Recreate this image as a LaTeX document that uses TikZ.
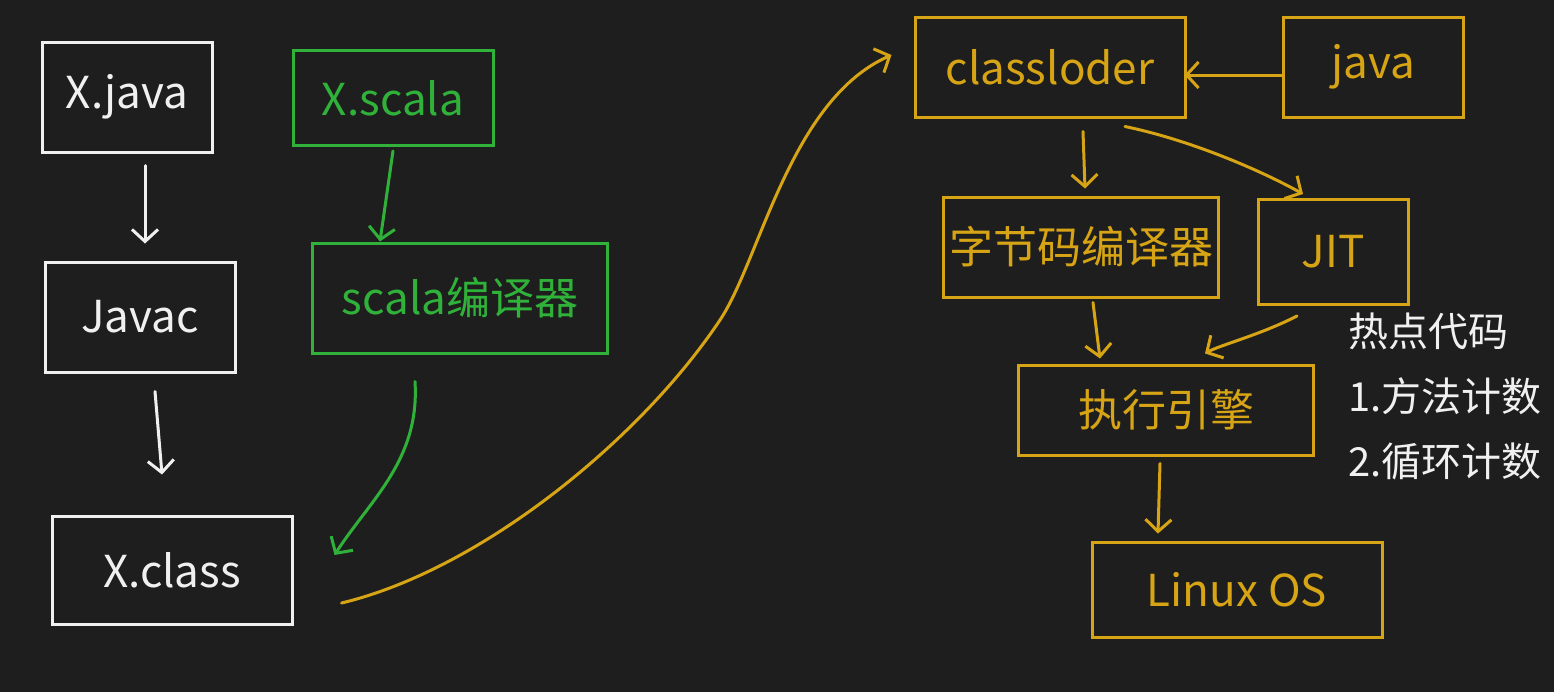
\documentclass[tikz,border=0pt]{standalone}
\usepackage{fontspec}
\setmainfont{Noto Sans CJK SC}
\usetikzlibrary{arrows.meta}
\definecolor{bg}{RGB}{30,30,30}
\definecolor{wline}{RGB}{240,240,240}
\definecolor{gline}{RGB}{48,178,58}
\definecolor{yline}{RGB}{214,164,20}
\begin{document}
\begin{tikzpicture}[x=0.5pt,y=-0.5pt,
 box/.style={draw, line width=1.5pt, rectangle, inner sep=0pt, font=\fontsize{22}{26}\selectfont},
 wbox/.style={box, draw=wline, text=wline},
 gbox/.style={box, draw=gline, text=gline},
 ybox/.style={box, draw=yline, text=yline},
 arr/.style={line width=1.5pt, line cap=round, -{Straight Barb[length=6pt,width=13pt,line width=1.5pt]}},
]
\fill[bg] (0,0) rectangle (1554,692);
\useasboundingbox (0,0) rectangle (1554,692);

% left column
\node[wbox, minimum width=85pt, minimum height=55pt] (xjava) at (127,97) {X.java};
\node[wbox, minimum width=95pt, minimum height=55pt] (javac) at (140,317) {Javac};
\node[wbox, minimum width=120pt, minimum height=54pt] (xclass) at (172,570) {X.class};
% green
\node[gbox, minimum width=100pt, minimum height=47.5pt] (xscala) at (393,98) {X.scala};
\node[gbox, minimum width=147.5pt, minimum height=55pt] (scc) at (460,298) {scala编译器};
% gold
\node[ybox, minimum width=135pt, minimum height=50pt] (cl) at (1050,67) {classloder};
\node[ybox, minimum width=90pt, minimum height=50pt] (java) at (1373,67) {java};
\node[ybox, minimum width=137.5pt, minimum height=50pt] (bc) at (1081,247) {字节码编译器};
\node[ybox, minimum width=75pt, minimum height=52.5pt] (jit) at (1333,252) {JIT};
\node[ybox, minimum width=147.5pt, minimum height=45pt] (exe) at (1166,410) {执行引擎};
\node[ybox, minimum width=145pt, minimum height=47.5pt] (os) at (1237,590) {Linux OS};
% note
\node[text=wline, anchor=north west, inner sep=0pt, align=left,
      font=\fontsize{20}{32.5}\selectfont] (hot) at (1348,312) {热点代码\\1.方法计数\\2.循环计数};

% white arrows
\draw[arr, wline] ([xshift=9pt,yshift=-6pt]xjava.south) -- ([xshift=2.5pt,yshift=8.5pt]javac.north);
\draw[arr, wline] ([xshift=7.5pt,yshift=-9pt]javac.south) -- ([xshift=-5pt,yshift=20pt]xclass.north);
% green arrows
\draw[arr, gline] ([yshift=-2pt]xscala.south) -- ([xshift=-40pt,yshift=0pt]scc.north);
\draw[arr, gline] ([xshift=-22.5pt,yshift=-13.5pt]scc.south)
   .. controls (420,460) and (370,500) .. ([xshift=20.5pt,yshift=7.5pt]xclass.east);
% gold arrows
\coordinate (mid) at (720,320);
\draw[arr, yline] ([xshift=24pt,yshift=-16.5pt]xclass.east)
   .. controls (480,570) and (640,440) .. (mid)
   .. controls (760,260) and (790,100) .. ([xshift=-11pt,yshift=6pt]cl.west);
\draw[arr, yline] ([yshift=-4pt]java.west) -- ([xshift=-1pt,yshift=-4pt]cl.east);
\draw[arr, yline] ([xshift=16.5pt,yshift=-6.5pt]cl.south) -- ([xshift=2pt,yshift=3.5pt]bc.north);
\draw[arr, yline] ([xshift=37.5pt,yshift=-4pt]cl.south)
   .. controls (1190,140) and (1260,170) .. ([xshift=-15pt,yshift=2pt]jit.north);
\draw[arr, yline] ([xshift=6pt,yshift=-2pt]bc.south) -- ([xshift=-33pt,yshift=2.5pt]exe.north);
\draw[arr, yline] ([xshift=-18pt,yshift=-5pt]jit.south)
   .. controls (1260,335) and (1220,345) .. ([xshift=19.5pt,yshift=5pt]exe.north);
\draw[arr, yline] ([xshift=-3pt,yshift=-3.5pt]exe.south) -- ([xshift=-39.5pt,yshift=3.75pt]os.north);
\end{tikzpicture}
\end{document}
